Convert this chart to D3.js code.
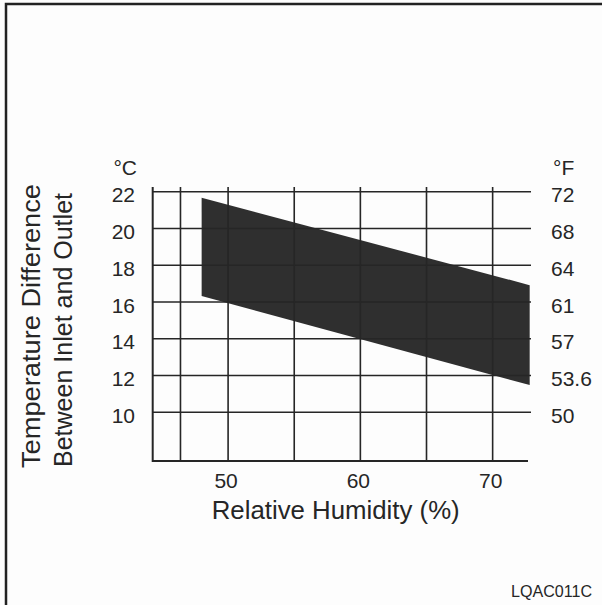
<!DOCTYPE html>
<html>
<head>
<meta charset="utf-8">
<script src="https://cdn.jsdelivr.net/npm/d3@7"></script>
<style>
  html, body { margin: 0; padding: 0; background: #fdfdfd; }
  svg { display: block; font-family: "Liberation Sans", Arial, sans-serif; }
</style>
</head>
<body>
<div id="chart"></div>
<script>
// values
const humidityDomain = [44.3, 72.9];
const tempDomain = [7.35, 22.26];
const humidityGrid = [46.4, 50, 55, 60, 65, 70];
const humidityTicks = [50, 60, 70];
const celsiusTicks = [22, 20, 18, 16, 14, 12, 10];
const fahrenheitLabels = ["72", "68", "64", "61", "57", "53.6", "50"];
const bandHumidity = [48, 72.8];
const bandUpper = [21.67, 16.92];
const bandLower = [16.33, 11.48];

document.addEventListener("DOMContentLoaded", () => {
    const width = 602, height = 605;
    const ink = "#262626";

    const svg = d3.select("#chart")
        .append("svg")
        .attr("width", width)
        .attr("height", height);

    // frame (only left and top edges are visible in the reference)
    svg.append("path")
        .attr("d", `M6,${height} L6,4 L${width},4`)
        .attr("fill", "none")
        .attr("stroke", "#222")
        .attr("stroke-width", 2.5);

    const xScale = d3.scaleLinear()
        .domain(humidityDomain)
        .range([152.7, 531]);

    const yScale = d3.scaleLinear()
        .domain(tempDomain)
        .range([461, 187]);

    // band of acceptable temperature difference
    const bandData = bandHumidity.map((h, i) => ({ h: h, lo: bandLower[i], hi: bandUpper[i] }));
    svg.append("path")
        .datum(bandData)
        .attr("fill", "#2f2f2f")
        .attr("d", d3.area()
            .x(d => xScale(d.h))
            .y0(d => yScale(d.lo))
            .y1(d => yScale(d.hi))
        );

    // horizontal grid lines
    svg.append("g")
        .selectAll("line")
        .data(celsiusTicks)
        .enter()
        .append("line")
        .attr("x1", xScale(humidityDomain[0]))
        .attr("x2", xScale(humidityDomain[1]))
        .attr("y1", d => yScale(d))
        .attr("y2", d => yScale(d))
        .attr("stroke", ink)
        .attr("stroke-width", 1.6);

    // vertical grid lines
    svg.append("g")
        .selectAll("line")
        .data(humidityGrid)
        .enter()
        .append("line")
        .attr("x1", d => xScale(d))
        .attr("x2", d => xScale(d))
        .attr("y1", yScale(tempDomain[1]))
        .attr("y2", yScale(tempDomain[0]))
        .attr("stroke", ink)
        .attr("stroke-width", 1.6);

    // left axis and bottom axis
    svg.append("path")
        .attr("d", `M${xScale(humidityDomain[0])},${yScale(tempDomain[1])} L${xScale(humidityDomain[0])},${yScale(tempDomain[0])} L${xScale(humidityDomain[1]) - 3},${yScale(tempDomain[0])}`)
        .attr("fill", "none")
        .attr("stroke", ink)
        .attr("stroke-width", 2);

    // celsius labels
    svg.append("g")
        .selectAll("text")
        .data(celsiusTicks)
        .enter()
        .append("text")
        .attr("x", 135)
        .attr("y", d => yScale(d) + 10.5)
        .attr("text-anchor", "end")
        .attr("font-size", 21)
        .attr("fill", ink)
        .text(d => d);

    // fahrenheit labels on the right
    svg.append("g")
        .selectAll("text")
        .data(fahrenheitLabels)
        .enter()
        .append("text")
        .attr("x", 551)
        .attr("y", (d, i) => yScale(celsiusTicks[i]) + 10.5)
        .attr("text-anchor", "start")
        .attr("font-size", 21)
        .attr("fill", ink)
        .text(d => d);

    svg.append("text")
        .attr("x", 137)
        .attr("y", 175)
        .attr("text-anchor", "end")
        .attr("font-size", 21)
        .attr("fill", ink)
        .text("°C");

    svg.append("text")
        .attr("x", 553)
        .attr("y", 175)
        .attr("text-anchor", "start")
        .attr("font-size", 21)
        .attr("fill", ink)
        .text("°F");

    // humidity labels
    svg.append("g")
        .selectAll("text")
        .data(humidityTicks)
        .enter()
        .append("text")
        .attr("x", d => xScale(d) - 2)
        .attr("y", 488)
        .attr("text-anchor", "middle")
        .attr("font-size", 21)
        .attr("fill", ink)
        .text(d => d);

    svg.append("text")
        .attr("x", 211.7)
        .attr("y", 519)
        .attr("font-size", 25)
        .attr("textLength", 248)
        .attr("lengthAdjust", "spacingAndGlyphs")
        .attr("fill", ink)
        .text("Relative Humidity (%)");

    // rotated y title, two lines
    svg.append("text")
        .attr("transform", "translate(40,468) rotate(-90)")
        .attr("font-size", 25)
        .attr("textLength", 284)
        .attr("lengthAdjust", "spacingAndGlyphs")
        .attr("fill", ink)
        .text("Temperature Difference");

    svg.append("text")
        .attr("transform", "translate(72,467) rotate(-90)")
        .attr("font-size", 25)
        .attr("textLength", 274)
        .attr("lengthAdjust", "spacingAndGlyphs")
        .attr("fill", ink)
        .text("Between Inlet and Outlet");

    svg.append("text")
        .attr("x", 592)
        .attr("y", 597)
        .attr("text-anchor", "end")
        .attr("font-size", 16)
        .attr("textLength", 81)
        .attr("lengthAdjust", "spacingAndGlyphs")
        .attr("fill", ink)
        .text("LQAC011C");
});
</script>
</body>
</html>
